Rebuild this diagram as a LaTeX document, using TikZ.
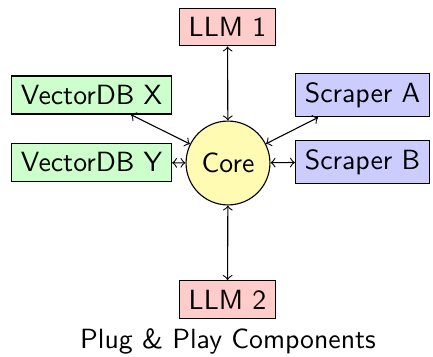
\documentclass[tikz,border=0pt]{standalone}
\begin{document}
\begin{tikzpicture}[x=0.36pt,y=-0.36pt,
  font=\sffamily,
  comp/.style={draw, rectangle, inner sep=3.33pt},
  llm/.style={comp, fill=red!20},
  vdb/.style={comp, fill=green!20},
  scr/.style={comp, fill=blue!20},
  corenode/.style={draw, circle, fill=yellow!30, minimum size=30.2pt, inner sep=0pt},
  link/.style={<->}]
\useasboundingbox (0,0) rectangle (433,357);
\node[corenode] (core) at (228,163) {Core};
\node[llm] (l1) at (227.5,27) {LLM 1};
\node[llm] (l2) at (227.5,299.5) {LLM 2};
\node[vdb] (vx) at (91.5,95) {VectorDB X};
\node[vdb] (vy) at (91.5,162.5) {VectorDB Y};
\node[scr] (sa) at (362.5,95) {Scraper A};
\node[scr] (sb) at (362.5,162) {Scraper B};
\node (cap) at (228,341) {Plug \& Play Components};
\draw[link] (l1) -- (core);
\draw[link] (l2) -- (core);
\draw[link] (vx) -- (core);
\draw[link] (vy) -- (core);
\draw[link] (sa) -- (core);
\draw[link] (sb) -- (core);
\end{tikzpicture}
\end{document}
